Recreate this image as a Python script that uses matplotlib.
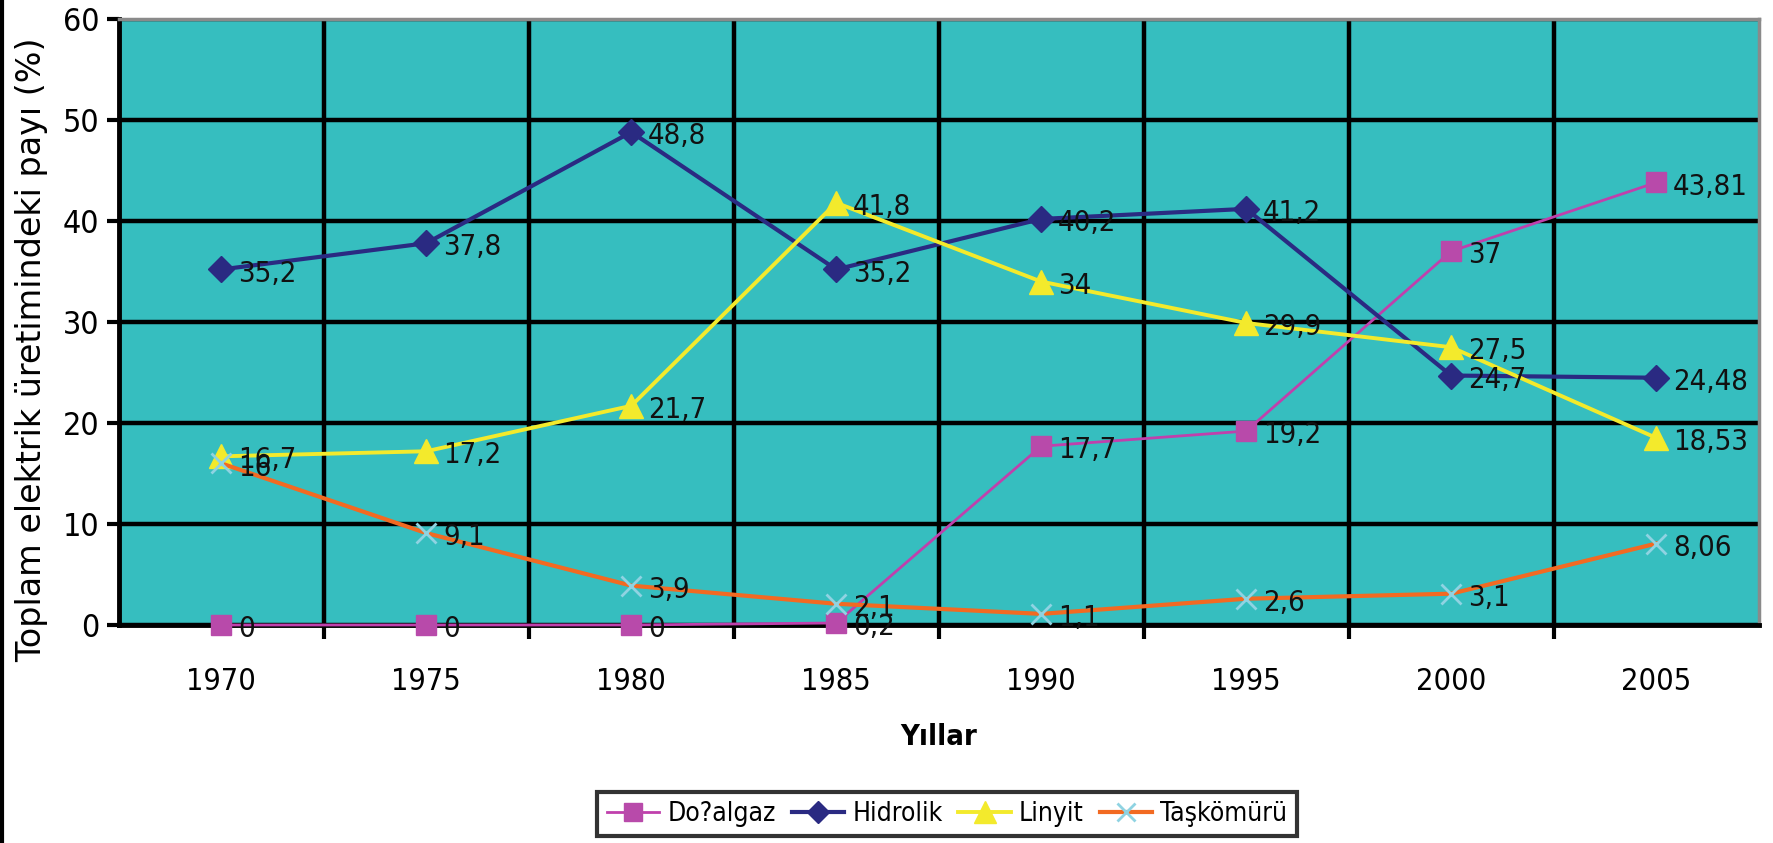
import numpy as np
import matplotlib.pyplot as plt
from matplotlib.lines import Line2D

# data
years = ['1970', '1975', '1980', '1985', '1990', '1995', '2000', '2005']
dogalgaz = [0, 0, 0, 0.2, 17.7, 19.2, 37, 43.81]
hidrolik = [35.2, 37.8, 48.8, 35.2, 40.2, 41.2, 24.7, 24.48]
linyit = [16.7, 17.2, 21.7, 41.8, 34, 29.9, 27.5, 18.53]
taskomuru = [16, 9.1, 3.9, 2.1, 1.1, 2.6, 3.1, 8.06]

labels = ['Do?algaz', 'Hidrolik', 'Linyit', 'Taşkömürü']
yticks = [0, 10, 20, 30, 40, 50, 60]

plt.rcParams['font.family'] = ['DejaVu Sans']
plt.rcParams['font.stretch'] = 'condensed'

fig = plt.figure(figsize=(17.73, 8.43), dpi=100)
ax = fig.add_axes([0.067, 0.2586, 0.9249, 0.7189])
ax.set_facecolor('#36BEBF')

x = np.arange(len(years))

styles = [
    (dogalgaz, dict(color='#C040AC', lw=2, marker='s', ms=15, mfc='#B84AAA', mec='#B84AAA')),
    (hidrolik, dict(color='#2A2A82', lw=3, marker='D', ms=13, mfc='#2A2A82', mec='#2A2A82')),
    (linyit, dict(color='#F3EA2C', lw=2.8, marker='^', ms=17, mfc='#F3EA2C', mec='#F3EA2C')),
    (taskomuru, dict(color='#F26A22', lw=3, marker='x', ms=15, mec='#8FD3E2', mew=2)),
]

handles = []
for (vals, st), name in zip(styles, labels):
    ln, = ax.plot(x, vals, clip_on=False, zorder=5, label=name, **st)
    handles.append(ln)
    for xi, v in zip(x, vals):
        txt = ('%g' % v).replace('.', ',')
        ax.annotate(txt, (xi, v), xytext=(12, -3), textcoords='offset points',
                    ha='left', va='center', fontsize=21, color='#111111', zorder=6)

ax.set_xlim(-0.5, 7.5)
ax.set_ylim(0, 60)
ax.set_yticks(yticks)
ax.set_xticks(x)
ax.set_xticklabels(years)
ax.set_xticks(np.arange(0.5, 7.5, 1), minor=True)
ax.grid(True, which='major', axis='y', color='black', lw=3.2)
ax.grid(True, which='minor', axis='x', color='black', lw=3.2)
ax.set_axisbelow(True)

ax.tick_params(axis='y', which='major', length=9, width=3, labelsize=23, pad=5, direction='out')
ax.tick_params(axis='x', which='major', length=0, labelsize=22, pad=30)
ax.tick_params(axis='x', which='minor', length=10, width=3, direction='out')

for s in ['left', 'bottom']:
    ax.spines[s].set_linewidth(3.5)
    ax.spines[s].set_color('black')
for s in ['top', 'right']:
    ax.spines[s].set_linewidth(2.5)
    ax.spines[s].set_color('#8a8a8a')

ax.set_xlabel('Yıllar', fontsize=21, fontweight='bold', labelpad=20)
ax.set_ylabel('Toplam elektrik üretimindeki payı (%)', fontsize=24,
              fontstretch='normal')
ax.yaxis.set_label_coords(-0.043, 0.455)

leg = fig.legend(handles=handles, loc='center', bbox_to_anchor=(947 / 1773, 1 - 814 / 843),
                 ncol=4, frameon=True, fancybox=False, fontsize=19, handlelength=2.0,
                 columnspacing=0.6, handletextpad=0.3, borderpad=0.35, markerscale=0.9)
leg.get_frame().set_edgecolor('black')
leg.get_frame().set_linewidth(3)

fig.add_artist(Line2D([0.001, 0.001], [0, 1], color='black', lw=3, transform=fig.transFigure))

fig.savefig('out.png', dpi=100)
